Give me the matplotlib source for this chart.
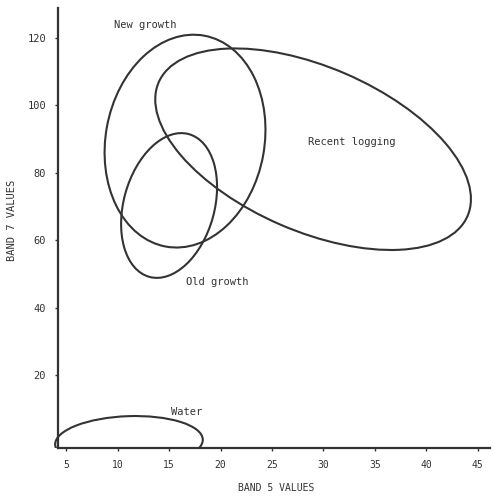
import matplotlib
matplotlib.use("Agg")
import matplotlib.pyplot as plt
from matplotlib.patches import Ellipse, Rectangle
from matplotlib.transforms import Affine2D

# cluster ellipses
# centre (band 5, band 7), semi-axes in band-5-sized units, tilt in degrees
classes = ['New growth', 'Recent logging', 'Old growth', 'Water']
center_b5 = [16.55, 29.0, 15.0, 11.1]
center_b7 = [89.4, 87.0, 70.3, 0.1]
semi_major = [10.42, 16.36, 7.2, 7.18]
semi_minor = [7.72, 7.99, 4.41, 2.52]
tilt = [79.7, -23.4, 74.5, 2.0]

# where the class names are written
label_b5 = [12.7, 32.8, 19.7, 16.7]
label_b7 = [123.9, 89.1, 47.6, 9.0]

x_ticks = [5, 10, 15, 20, 25, 30, 35, 40, 45]
y_ticks = [20, 40, 60, 80, 100, 120]

W, H = 493, 496
fig = plt.figure(figsize=(W / 100, H / 100), dpi=100)
ax_l, ax_b, ax_w, ax_h = 58, 48, 432, 440  # pixels
ax = fig.add_axes([ax_l / W, ax_b / H, ax_w / W, ax_h / H])

xlim = (4.2, 46.2)
ylim = (-1.66, 128.9)
ax.set_xlim(xlim)
ax.set_ylim(ylim)

# y data units per band-5 unit on screen, so the ellipses keep their look
k = ((ylim[1] - ylim[0]) / ax_h) / ((xlim[1] - xlim[0]) / ax_w)

ink = '#333333'
mono = 'DejaVu Sans Mono'

clip = Rectangle((3.7, ylim[0]), 50, 200, transform=ax.transData)
for i in range(len(classes)):
    tr = Affine2D().scale(1, k).translate(center_b5[i], center_b7[i]) + ax.transData
    e = Ellipse((0, 0), 2 * semi_major[i], 2 * semi_minor[i], angle=tilt[i],
                fill=False, edgecolor=ink, linewidth=1.5, transform=tr)
    ax.add_patch(e)
    e.set_clip_path(clip)
    ax.text(label_b5[i], label_b7[i], classes[i], fontsize=7.5, family=mono,
            color=ink, ha='center', va='center')

for s in ['top', 'right']:
    ax.spines[s].set_visible(False)
for s in ['left', 'bottom']:
    ax.spines[s].set_linewidth(1.6)
    ax.spines[s].set_color(ink)

ax.set_xticks(x_ticks)
ax.set_yticks(y_ticks)
ax.tick_params(axis='both', direction='out', length=2.5, width=1, color=ink,
               labelcolor=ink)
ax.tick_params(axis='x', pad=6, labelsize=7)
ax.tick_params(axis='y', pad=6, labelsize=7.5)
for lab in ax.get_xticklabels() + ax.get_yticklabels():
    lab.set_family(mono)

fig.text(12 / W, 1 - 220 / H, 'BAND 7 VALUES', rotation=90, fontsize=7.5,
         family=mono, color=ink, ha='center', va='center')
fig.text(276 / W, 1 - 488 / H, 'BAND 5 VALUES', fontsize=7, family=mono,
         color=ink, ha='center', va='center')

fig.savefig('out.png', dpi=100)
